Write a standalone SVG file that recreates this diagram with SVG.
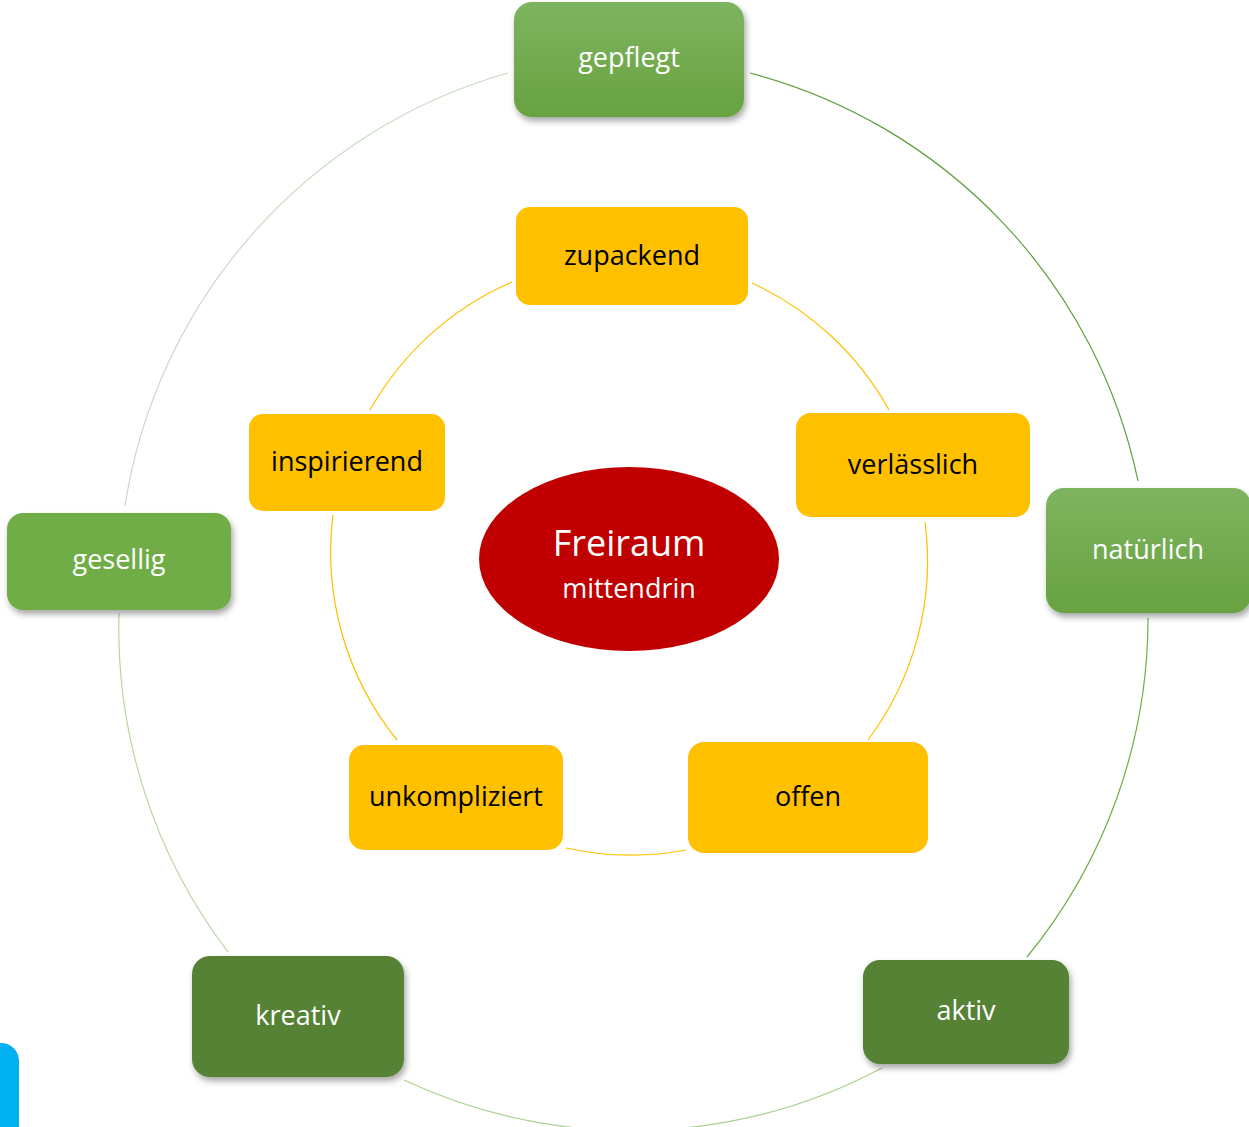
<svg xmlns="http://www.w3.org/2000/svg" width="1249" height="1127" viewBox="0 0 1249 1127">
<defs>
<linearGradient id="gGrad" x1="0" y1="0" x2="0" y2="1">
<stop offset="0" stop-color="#7eb45f"/>
<stop offset="1" stop-color="#68a241"/>
</linearGradient>
<filter id="sh" x="-10%" y="-10%" width="125%" height="130%">
<feDropShadow dx="2" dy="4" stdDeviation="3" flood-color="#000" flood-opacity="0.35"/>
</filter>
</defs>
<style>
.lbl{font-family:"Open Sans","Noto Sans",sans-serif;font-size:27px;text-anchor:middle}
.w{fill:#ffffff}
.k{fill:#000000}
.arc{fill:none;stroke-width:1.2}
.in{stroke:#ffc000}
.y{fill:#ffc000}
</style>
<rect width="1249" height="1127" fill="#ffffff"/>
<g id="connectors">
<path class="arc" stroke="#c6dcc0" d="M125,506 A535,535 0 0 1 508,73"/>
<path class="arc" stroke="#5f9e3e" d="M750,73 A535,535 0 0 1 1138,481"/>
<path class="arc" stroke="#70ad47" d="M1148,618 A535,535 0 0 1 1027,957"/>
<path class="arc" stroke="#a9d18e" d="M882,1068 A535,535 0 0 1 404,1080"/>
<path class="arc" stroke="#b7d6a8" d="M228,952 A535,535 0 0 1 119,613"/>
<path class="arc in" d="M752,283 A299,299 0 0 1 889,410"/>
<path class="arc in" d="M925,522 A299,299 0 0 1 868,740"/>
<path class="arc in" d="M686,850 A299,299 0 0 1 566,848"/>
<path class="arc in" d="M397,740 A299,299 0 0 1 333,515"/>
<path class="arc in" d="M370,410 A299,299 0 0 1 512,282"/>
</g>
<g id="n-gepflegt"><rect x="514" y="2" width="230" height="115" rx="18" fill="url(#gGrad)" filter="url(#sh)"/><text class="lbl w" x="629" y="67">gepflegt</text></g>
<g id="n-natuerlich"><rect x="1046" y="488" width="205" height="125" rx="18" fill="url(#gGrad)" filter="url(#sh)"/><text class="lbl w" x="1148" y="559">natürlich</text></g>
<g id="n-gesellig"><rect x="7" y="513" width="224" height="97" rx="16" fill="#70ad47" filter="url(#sh)"/><text class="lbl w" x="119" y="569">gesellig</text></g>
<g id="n-kreativ"><rect x="192" y="956" width="212" height="121" rx="18" fill="#548235" filter="url(#sh)"/><text class="lbl w" x="298" y="1025">kreativ</text></g>
<g id="n-aktiv"><rect x="863" y="960" width="206" height="104" rx="17" fill="#548235" filter="url(#sh)"/><text class="lbl w" x="966" y="1020">aktiv</text></g>
<g id="n-zupackend"><rect class="y" x="516" y="207" width="232" height="98" rx="14"/><text class="lbl k" x="632" y="265">zupackend</text></g>
<g id="n-verlaesslich"><rect class="y" x="796" y="413" width="234" height="104" rx="15"/><text class="lbl k" x="913" y="474">verlässlich</text></g>
<g id="n-inspirierend"><rect class="y" x="249" y="414" width="196" height="97" rx="14"/><text class="lbl k" x="347" y="471">inspirierend</text></g>
<g id="n-unkompliziert"><rect class="y" x="349" y="745" width="214" height="105" rx="15"/><text class="lbl k" x="456" y="806">unkompliziert</text></g>
<g id="n-offen"><rect class="y" x="688" y="742" width="240" height="111" rx="16"/><text class="lbl k" x="808" y="806">offen</text></g>
<g id="n-center"><ellipse cx="629" cy="559" rx="150" ry="92" fill="#c00000"/>
<text x="629" y="556" font-family="Open Sans, Noto Sans, sans-serif" font-size="36" fill="#ffffff" text-anchor="middle">Freiraum</text>
<text x="629" y="598" font-family="Open Sans, Noto Sans, sans-serif" font-size="27" fill="#ffffff" text-anchor="middle">mittendrin</text></g>
<path d="M0,1043 H1 A18,18 0 0 1 19,1061 V1127 H0 Z" fill="#00b0f0"/>
</svg>
